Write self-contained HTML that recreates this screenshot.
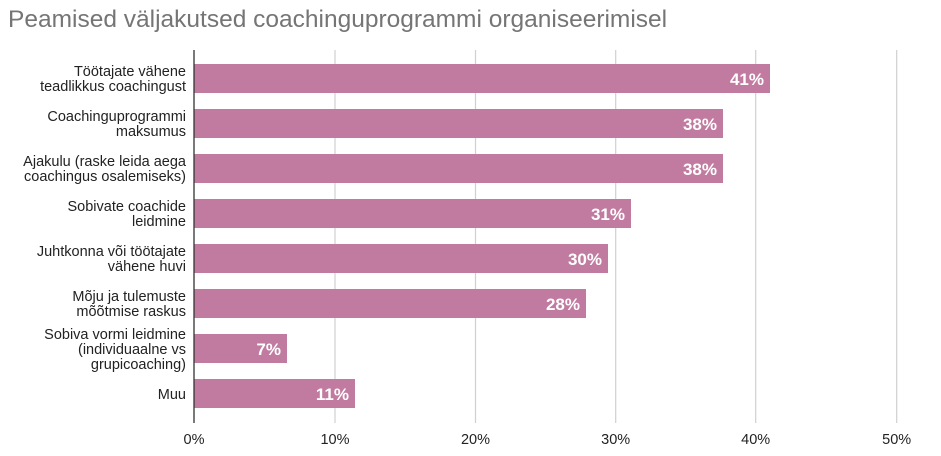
<!DOCTYPE html>
<html><head><meta charset="utf-8"><style>
body{margin:0;background:#fff}
svg{display:block;font-family:"Liberation Sans",Arial,sans-serif}
</style></head><body>
<svg width="941" height="456" viewBox="0 0 941 456" xmlns="http://www.w3.org/2000/svg">
<rect width="941" height="456" fill="#fff"/>
<text x="8" y="27" font-size="24.5" fill="#757575">Peamised väljakutsed coachinguprogrammi organiseerimisel</text>
<g stroke="#d0d0d0" stroke-width="1.2">
<line x1="335" y1="50" x2="335" y2="423"/>
<line x1="475.5" y1="50" x2="475.5" y2="423"/>
<line x1="615.7" y1="50" x2="615.7" y2="423"/>
<line x1="755.7" y1="50" x2="755.7" y2="423"/>
<line x1="896.7" y1="50" x2="896.7" y2="423"/>
</g>
<g fill="#c27ba0">
<rect x="194" y="64" width="576" height="29"/>
<rect x="194" y="109" width="529" height="29"/>
<rect x="194" y="154" width="529" height="29"/>
<rect x="194" y="199" width="437" height="29"/>
<rect x="194" y="244" width="414" height="29"/>
<rect x="194" y="289" width="392" height="29"/>
<rect x="194" y="334" width="93" height="29"/>
<rect x="194" y="379" width="161" height="29"/>
</g>
<line x1="194" y1="50" x2="194" y2="423" stroke="#333" stroke-width="1.3"/>
<g fill="#fff" font-size="17" font-weight="bold" text-anchor="end">
<text x="764" y="85">41%</text>
<text x="717" y="130">38%</text>
<text x="717" y="175">38%</text>
<text x="625" y="220">31%</text>
<text x="602" y="265">30%</text>
<text x="580" y="310">28%</text>
<text x="281" y="355">7%</text>
<text x="349" y="400">11%</text>
</g>
<g fill="#222" font-size="14.5" text-anchor="end">
<text x="186" y="76">Töötajate vähene</text>
<text x="186" y="91">teadlikkus coachingust</text>
<text x="186" y="121">Coachinguprogrammi</text>
<text x="186" y="136">maksumus</text>
<text x="186" y="166">Ajakulu (raske leida aega</text>
<text x="186" y="181">coachingus osalemiseks)</text>
<text x="186" y="211">Sobivate coachide</text>
<text x="186" y="226">leidmine</text>
<text x="186" y="256">Juhtkonna või töötajate</text>
<text x="186" y="271">vähene huvi</text>
<text x="186" y="301">Mõju ja tulemuste</text>
<text x="186" y="316">mõõtmise raskus</text>
<text x="186" y="339">Sobiva vormi leidmine</text>
<text x="186" y="354">(individuaalne vs</text>
<text x="186" y="369">grupicoaching)</text>
<text x="186" y="399">Muu</text>
</g>
<g fill="#222" font-size="14.5" text-anchor="middle">
<text x="194" y="444">0%</text>
<text x="335" y="444">10%</text>
<text x="475.5" y="444">20%</text>
<text x="615.7" y="444">30%</text>
<text x="755.7" y="444">40%</text>
<text x="896.7" y="444">50%</text>
</g>
</svg>
</body></html>
